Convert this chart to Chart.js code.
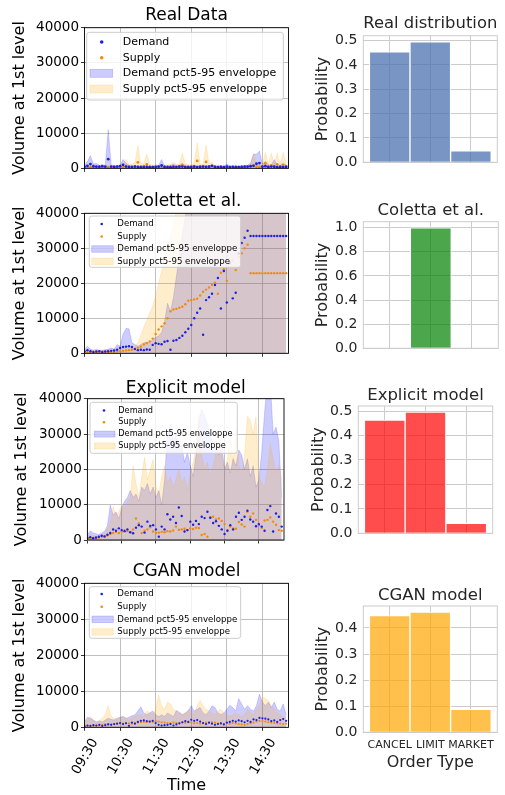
<!DOCTYPE html>
<html>
<head>
<meta charset="utf-8">
<script src="https://cdn.jsdelivr.net/npm/chart.js@4.4.1/dist/chart.umd.min.js"></script>
<style>
body { margin: 0; background: #fff; }
#wrap { position: relative; width: 505px; height: 795px; overflow: hidden; }
canvas { position: absolute; }
</style>
</head>
<body>
<div id="wrap">
  <canvas id="vol1" width="300" height="185" style="left:0;top:0"></canvas>
  <canvas id="vol2" width="300" height="185" style="left:0;top:185px"></canvas>
  <canvas id="vol3" width="300" height="185" style="left:0;top:370px"></canvas>
  <canvas id="vol4" width="300" height="240" style="left:0;top:555px"></canvas>
  <canvas id="prob1" width="205" height="185" style="left:300px;top:0"></canvas>
  <canvas id="prob2" width="205" height="185" style="left:300px;top:185px"></canvas>
  <canvas id="prob3" width="205" height="185" style="left:300px;top:370px"></canvas>
  <canvas id="prob4" width="205" height="240" style="left:300px;top:555px"></canvas>
</div>
<script>
// minutes after 09:30, one sample every 5 minutes
const TIME = [0,5,10,15,20,25,30,35,40,45,50,55,60,65,70,75,80,85,90,95,100,105,110,115,120,
  125,130,135,140,145,150,155,160,165,170,175,180,185,190,195,200,205,210,215,220,225,230,235,
  240,245,250,255,260,265,270,275,280,285,290,295,300,305,310,315,320,325,330,335,340];
const TIME_TICKS = [0, 60, 120, 180, 240, 300];
const TIME_LABELS = ['09:30', '10:30', '11:30', '12:30', '13:30', '14:30'];
const ORDER_TYPES = ['CANCEL', 'LIMIT', 'MARKET'];

// Real Data
const realDemand = [500,700,1200,600,500,450,600,500,2600,500,
  400,500,600,1000,500,400,350,450,400,300,
  350,400,300,350,400,500,800,400,350,300,
  400,350,450,500,350,300,400,450,350,400,
  500,400,450,700,400,350,400,300,450,350,
  400,300,350,400,450,500,600,700,1300,1500,
  500,600,400,500,450,300,400,350,400];
const realSupply = [300,250,300,250,300,350,300,250,300,350,
  300,400,350,500,600,400,500,600,1700,500,
  600,1100,500,400,450,400,350,400,450,500,
  600,500,600,900,500,450,400,600,2100,500,
  450,1800,500,600,400,350,400,300,350,300,
  350,400,350,300,350,400,500,800,500,400,
  450,1400,500,800,500,1100,500,900,600];
const realDemandHi = [900,1900,3600,1200,1400,900,1000,800,11000,900,
  900,700,800,2500,1500,800,700,600,700,600,
  700,600,500,600,700,800,2500,700,600,700,
  1200,700,800,1500,700,600,700,800,700,800,
  900,700,800,1000,700,600,700,600,1200,700,
  600,700,600,700,800,900,1500,4000,4000,4900,
  1200,2000,1000,900,2500,800,900,1500,900];
const realSupplyHi = [500,500,600,500,600,500,600,500,600,700,
  800,900,1000,1200,2600,1000,1200,1500,6400,1200,
  1500,4000,1200,900,1000,900,800,900,1000,1100,
  1800,1100,1300,4300,1200,1000,900,1500,7300,1200,
  1100,6600,1300,1800,900,800,900,700,800,700,
  800,900,800,700,800,900,1200,4300,1200,1000,
  1100,4500,1300,4300,1200,4300,1300,4500,1500];

// Coletta et al.
const colettaDemand = [500,900,600,400,500,600,400,500,600,700,
  800,1000,1500,1800,1900,2000,1800,1200,900,1000,
  900,1100,1000,2400,2900,2700,2600,3300,3500,1000,
  3600,3800,4400,5000,6000,7000,8100,10000,11600,12800,
  5300,15200,16000,17000,19500,21500,12800,23500,14500,26000,
  15700,17300,28500,31500,33000,35000,33500,33500,33500,33500,
  33500,33500,33500,33500,33500,33500,33500,33500,33500];
const colettaSupply = [200,300,250,300,300,250,300,350,300,400,
  400,500,600,700,800,900,1000,1300,1600,1900,
  2500,2900,3400,4200,5500,6800,7700,8600,10000,12000,
  12500,12700,13000,13300,14000,15000,15200,15400,15600,16500,
  17600,18200,18800,19500,20200,17000,23000,24000,20700,25500,
  26500,23800,27500,28600,30000,31000,22900,22900,22900,22900,
  22900,22900,22900,22900,22900,22900,22900,22900,22900];
const colettaDemandHi = [1000,2000,1200,900,1000,800,900,1000,1200,1500,
  1200,2500,2000,5500,7100,7000,3000,2500,2000,2500,
  3000,3200,3000,4000,4500,5000,6000,9000,14300,12000,
  16000,22000,28000,34000,39000,45000,45000,45000,45000,45000,
  45000,45000,45000,45000,45000,45000,45000,45000,45000,45000,
  45000,45000,45000,45000,45000,45000,45000,45000,45000,45000,
  45000,45000,45000,45000,45000,45000,45000,45000,45000];
const colettaSupplyHi = [800,1000,900,1000,1200,1000,900,1000,1100,1200,
  1200,1300,1200,1400,1500,1400,1500,2000,3000,5000,
  7500,9500,11500,13500,16500,20000,23500,27000,30500,33500,
  37000,40500,45000,45000,45000,45000,45000,45000,45000,45000,
  45000,45000,45000,45000,45000,45000,45000,45000,45000,45000,
  45000,45000,45000,45000,45000,45000,45000,45000,45000,45000,
  45000,45000,45000,45000,45000,45000,45000,45000,45000];

// Explicit model
const explicitDemand = [600,800,500,700,900,1200,1000,1500,2000,3000,
  2600,3300,2800,2500,3000,2200,1900,3500,4200,3800,
  2100,5200,4000,4200,3000,950,3800,3000,7300,5800,
  6600,4800,9200,6800,2400,2800,5200,4300,5400,4500,
  6600,6200,8000,6300,4800,5300,4000,3000,1700,2600,
  4200,3000,6600,7700,5700,6600,8300,5800,5200,3900,
  4500,3800,2600,8500,9600,2400,7500,6600,3800];
const explicitSupply = [400,500,600,500,700,900,1100,1300,1700,2000,
  2300,2000,2400,2800,2500,2200,3000,6100,4700,2000,
  2600,3000,3600,2400,2000,2100,2300,2200,2500,2400,
  2700,3800,2900,3000,3200,2800,3300,3100,3500,3400,
  1400,1700,900,6400,6600,5800,6100,5400,4500,2800,
  3800,3300,3200,5100,4400,3800,8000,6600,7500,5700,
  4200,3400,5500,5700,6400,5200,4300,2800,2600];
const explicitDemandHi = [1500,2600,2000,1800,1500,2000,2500,4000,9900,7000,
  8000,6000,9000,11000,12000,14000,12000,13000,11000,15000,
  14000,16000,13000,15000,12000,14000,10000,17000,30000,33000,
  28000,30000,26000,27000,22000,25000,21000,18000,24000,34000,
  37000,35000,33000,30000,26000,28000,24000,27000,20000,22000,
  19000,23000,21000,25500,24000,20000,23000,18000,21000,15000,
  17000,25000,36000,45000,45000,30000,32000,28000,12000];
const explicitSupplyHi = [1200,1500,1200,1000,1300,1500,2000,3000,5000,9500,
  7000,8000,10000,9000,11000,12000,21000,16000,12000,18000,
  23400,17000,20000,22800,15000,13000,18000,21000,16000,18000,
  15000,17000,20000,16000,18000,14000,19000,22000,26000,35800,
  24000,20000,22000,18000,21000,25000,31600,24000,20000,23000,
  28300,22000,32000,21000,19000,24000,35000,34000,30000,34900,
  18000,16000,15000,20000,27300,23000,19000,21000,17000];

// CGAN model
const cganDemand = [300,500,400,600,500,700,400,600,800,700,
  900,1000,1200,900,1100,400,1300,1000,1500,1800,
  1900,1700,1600,1800,1200,700,500,600,700,900,
  500,800,1100,1400,1700,1500,2100,1800,2000,1600,
  1200,900,1300,1000,700,900,1100,800,1300,1500,
  1800,1600,1900,1700,1400,1800,1500,2200,2000,2600,
  2500,2400,2200,1700,1900,1500,2000,2300,1800];
const cganSupply = [300,400,350,450,500,600,700,800,900,800,
  900,1000,1100,1000,1200,1100,1000,1200,1300,1400,
  1500,1400,1600,1500,1700,1600,1400,1300,1200,1100,
  1300,1200,1100,1300,1200,1400,1300,1100,1200,1000,
  1100,1300,1200,1400,1300,1100,1000,900,1100,1000,
  1200,1100,900,800,700,900,1100,1300,1600,1800,
  1700,1600,1400,1300,1200,1100,1000,900,1000];
const cganDemandHi = [1500,2800,2500,2000,1500,1800,1500,2000,2500,2200,
  2000,2500,2800,3000,2500,2800,3200,3500,4500,5700,
  4000,3500,4000,4500,3500,3000,3500,3000,4000,3500,
  3000,4700,4200,3500,4000,4500,6000,4500,5000,5500,
  4000,3500,4500,6000,5500,4000,3500,4000,5000,6100,
  5500,4500,8000,6500,5000,6000,5000,4500,6000,9200,
  7000,6000,7000,5500,7000,5000,4500,6500,3500];
const cganSupplyHi = [1500,2000,3000,2000,1500,1800,2500,3500,6000,3000,
  2500,2000,2800,3000,2500,2000,2800,3000,3500,3500,
  3000,4500,4000,3500,5000,9000,6000,5000,7000,6500,
  5000,4500,4000,3500,4000,5000,4500,3500,6000,7500,
  6000,5000,4500,4000,3500,4500,5000,4000,3500,3000,
  3500,4000,3500,3000,3500,5000,4000,3500,5000,6000,
  8500,8000,7500,6000,5000,4000,3500,3000,2500];

// order type distributions
const realProb = [0.454, 0.495, 0.047];
const colettaProb = [0, 1.0, 0];
const explicitProb = [0.463, 0.496, 0.041];
const cganProb = [0.447, 0.461, 0.088];

Chart.defaults.font.family = '"DejaVu Sans", sans-serif';

const framePlugin = {
    id: 'frame',
    afterDatasetsDraw(chart, args, opts) {
        const a = chart.chartArea;
        const ctx = chart.ctx;
        ctx.save();
        ctx.strokeStyle = opts.color;
        ctx.lineWidth = opts.width;
        ctx.strokeRect(a.left, a.top, a.right - a.left, a.bottom - a.top);
        ctx.restore();
    }
};

// matplotlib-like legend box drawn inside the plot
const envLegendPlugin = {
    id: 'envLegend',
    afterDraw(chart, args, o) {
        if (!o || !o.box) return;
        const ctx = chart.ctx;
        const [bx, by, bw, bh] = o.box;
        ctx.save();
        ctx.beginPath();
        if (ctx.roundRect) ctx.roundRect(bx, by, bw, bh, 2.5);
        else ctx.rect(bx, by, bw, bh);
        ctx.fillStyle = 'rgba(255,255,255,0.8)';
        ctx.fill();
        ctx.strokeStyle = '#cccccc';
        ctx.lineWidth = 1;
        ctx.stroke();
        ctx.font = o.size + 'px "DejaVu Sans"';
        ctx.textBaseline = 'middle';
        chart.data.datasets.forEach((ds, i) => {
            const y = o.rows[i];
            if (ds.type === 'scatter') {
                ctx.beginPath();
                ctx.arc(o.dotX, y, o.dotR, 0, Math.PI * 2);
                ctx.fillStyle = ds.pointBackgroundColor;
                ctx.fill();
            } else {
                ctx.fillStyle = ds.backgroundColor;
                ctx.fillRect(o.rectX, y - o.rectH / 2, o.rectW, o.rectH);
                ctx.strokeStyle = ds.borderColor;
                ctx.lineWidth = 0.8;
                ctx.strokeRect(o.rectX, y - o.rectH / 2, o.rectW, o.rectH);
            }
            ctx.fillStyle = '#000';
            ctx.fillText(ds.label, o.textX, y);
        });
        ctx.restore();
    }
};

Chart.register(framePlugin, envLegendPlugin);

const DEMAND_DOT = '#1f1fe0';
const SUPPLY_DOT = '#ee8c10';
const DEMAND_FILL = 'rgba(0,0,255,0.2)';
const SUPPLY_FILL = 'rgba(255,165,0,0.2)';

function toPoints(values) {
    return TIME.map((t, i) => ({ x: t, y: values[i] }));
}

function volumeChart(id, title, series, g, legend, showTime) {
    const [demand, supply, demandHi, supplyHi] = series;
    return new Chart(document.getElementById(id), {
        type: 'scatter',
        data: {
            datasets: [
                { type: 'scatter', label: 'Demand', data: toPoints(demand), pointBackgroundColor: DEMAND_DOT, pointBorderWidth: 0, pointRadius: g.dotR, order: 0 },
                { type: 'scatter', label: 'Supply', data: toPoints(supply), pointBackgroundColor: SUPPLY_DOT, pointBorderWidth: 0, pointRadius: g.dotR, order: 0 },
                { type: 'line', label: 'Demand pct5-95 enveloppe', data: toPoints(demandHi), fill: 'origin', backgroundColor: DEMAND_FILL, borderColor: DEMAND_FILL, borderWidth: 0.8, pointRadius: 0, tension: 0, order: 2 },
                { type: 'line', label: 'Supply pct5-95 enveloppe', data: toPoints(supplyHi), fill: 'origin', backgroundColor: SUPPLY_FILL, borderColor: SUPPLY_FILL, borderWidth: 0.8, pointRadius: 0, tension: 0, order: 1 }
            ]
        },
        options: {
            responsive: false,
            animation: false,
            devicePixelRatio: 1,
            layout: { padding: { left: 0, right: g.padR, top: 0, bottom: 0 } },
            plugins: {
                legend: { display: false },
                tooltip: { enabled: false },
                title: {
                    display: true, text: title, color: '#000', fullSize: false,
                    font: { size: 17, weight: 'normal' },
                    padding: { top: g.tTop, bottom: g.tBot }
                },
                frame: { color: '#000', width: 0.9 },
                envLegend: legend
            },
            scales: {
                x: {
                    type: 'linear', min: 0, max: 344,
                    afterFit: s => { s.height = g.xH; },
                    afterBuildTicks: s => { s.ticks = TIME_TICKS.map(v => ({ value: v })); },
                    ticks: {
                        display: showTime, autoSkip: false,
                        minRotation: 60, maxRotation: 60, labelOffset: 10.5,
                        color: '#000', font: { size: 13.5 }, padding: 5,
                        callback: v => TIME_LABELS[TIME_TICKS.indexOf(v)]
                    },
                    grid: { color: '#b0b0b0', lineWidth: 0.8, tickColor: '#000', tickLength: 3.5 },
                    border: { display: false },
                    title: { display: showTime, text: 'Time', color: '#000', font: { size: 16 }, padding: { top: 0, bottom: 0 } }
                },
                y: {
                    min: 0, max: 40000,
                    afterFit: s => { s.width = g.left; },
                    ticks: { stepSize: 10000, color: '#000', font: { size: 13.5 }, padding: 2, callback: v => String(v) },
                    grid: { color: '#b0b0b0', lineWidth: 0.8, tickColor: '#000', tickLength: 3.5 },
                    border: { display: false },
                    title: { display: true, text: 'Volume at 1st level', color: '#000', font: { size: 16 }, padding: { top: g.yT, bottom: 0 } }
                }
            }
        }
    });
}

function probChart(id, title, probs, color, g, showTypes) {
    return new Chart(document.getElementById(id), {
        type: 'scatter',
        data: {
            datasets: [{
                type: 'bar',
                label: title,
                data: ORDER_TYPES.map((c, i) => ({ x: i, y: probs[i] })),
                backgroundColor: color,
                borderColor: '#ffffff',
                borderWidth: 1,
                barPercentage: 1,
                categoryPercentage: 1
            }]
        },
        options: {
            responsive: false,
            animation: false,
            devicePixelRatio: 1,
            layout: { padding: { left: 0, right: g.padR, top: 0, bottom: 0 } },
            plugins: {
                legend: { display: false },
                tooltip: { enabled: false },
                title: {
                    display: true, text: title, color: '#262626', fullSize: false,
                    font: { size: 16.5, weight: 'normal' },
                    padding: { top: g.tTop, bottom: g.tBot }
                },
                frame: { color: '#cccccc', width: 1 },
                envLegend: false
            },
            scales: {
                x: {
                    type: 'linear', min: -0.65, max: 2.65, offset: false,
                    afterFit: s => { s.height = g.xH; },
                    afterBuildTicks: s => { s.ticks = ORDER_TYPES.map((c, i) => ({ value: i })); },
                    ticks: {
                        display: showTypes, autoSkip: false, maxRotation: 0, minRotation: 0,
                        color: '#262626', font: { size: 11 }, padding: 6,
                        callback: v => ORDER_TYPES[v]
                    },
                    grid: { color: '#cccccc', lineWidth: 1, drawTicks: false, offset: false },
                    border: { display: false },
                    title: { display: showTypes, text: 'Order Type', color: '#262626', font: { size: 16 }, padding: { top: 0, bottom: 23 } }
                },
                y: {
                    min: 0, max: g.ymax,
                    afterFit: s => { s.width = g.left; },
                    ticks: {
                        stepSize: g.step, includeBounds: false,
                        color: '#262626', font: { size: 14 }, padding: 6,
                        callback: v => v.toFixed(1)
                    },
                    grid: { color: '#cccccc', lineWidth: 1, drawTicks: false },
                    border: { display: false },
                    title: { display: true, text: 'Probability', color: '#262626', font: { size: 16 }, padding: { top: g.yT, bottom: 0 } }
                }
            }
        }
    });
}

volumeChart('vol1', 'Real Data', [realDemand, realSupply, realDemandHi, realSupplyHi],
    { left: 84.5, padR: 11.5, tTop: 5.3, tBot: 2, xH: 16.7, yT: 10.5, dotR: 1.4 },
    { box: [86.7, 32.3, 196.6, 67.7], rows: [42, 57.7, 73.3, 89], dotX: 101.7, dotR: 1.8,
      rectX: 90, rectW: 22.7, rectH: 8, textX: 122.7, size: 11 }, false);

volumeChart('vol2', 'Coletta et al.', [colettaDemand, colettaSupply, colettaDemandHi, colettaSupplyHi],
    { left: 84.5, padR: 11.5, tTop: 6.3, tBot: 1.6, xH: 16.7, yT: 10.5, dotR: 1.2 },
    { box: [89.3, 31, 151.4, 51.3], rows: [39, 51.5, 64, 76.3], dotX: 101.7, dotR: 1.3,
      rectX: 91.7, rectW: 21.6, rectH: 6.5, textX: 117.3, size: 8.6 }, false);

volumeChart('vol3', 'Explicit model', [explicitDemand, explicitSupply, explicitDemandHi, explicitSupplyHi],
    { left: 87.4, padR: 16, tTop: 8.3, tBot: 0, xH: 15, yT: 12, dotR: 1.2 },
    { box: [90, 32.3, 147.3, 51], rows: [40.5, 52.3, 64.1, 75.9], dotX: 104, dotR: 1.3,
      rectX: 94.3, rectW: 20.7, rectH: 6, textX: 118.3, size: 8.2 }, false);

volumeChart('vol4', 'CGAN model', [cganDemand, cganSupply, cganDemandHi, cganSupplyHi],
    { left: 84.5, padR: 11.5, tTop: 6.3, tBot: 1.6, xH: 67.7, yT: 10.5, dotR: 1.1 },
    { box: [89.3, 31.7, 151.4, 51.6], rows: [39, 51.7, 64.3, 77], dotX: 101.7, dotR: 1.3,
      rectX: 92, rectW: 21.3, rectH: 6.5, textX: 117.3, size: 8.6 }, true);

probChart('prob1', 'Real distribution', realProb, 'rgba(76,114,176,0.75)',
    { left: 63.3, padR: 7.7, tTop: 14.1, tBot: 1.8, xH: 22.7, yT: 13, ymax: 0.52, step: 0.1 }, false);
probChart('prob2', 'Coletta et al.', colettaProb, 'rgba(0,128,0,0.7)',
    { left: 63.3, padR: 6.7, tTop: 16.1, tBot: 0.8, xH: 21.7, yT: 13, ymax: 1.05, step: 0.2 }, false);
probChart('prob3', 'Explicit model', explicitProb, 'rgba(255,0,0,0.7)',
    { left: 58.3, padR: 12.3, tTop: 15.4, tBot: 0.8, xH: 21.7, yT: 9, ymax: 0.521, step: 0.1 }, false);
probChart('prob4', 'CGAN model', cganProb, 'rgba(255,165,0,0.7)',
    { left: 63.3, padR: 7.7, tTop: 30.6, tBot: 0.6, xH: 62.7, yT: 13, ymax: 0.484, step: 0.1 }, true);
</script>
</body>
</html>
